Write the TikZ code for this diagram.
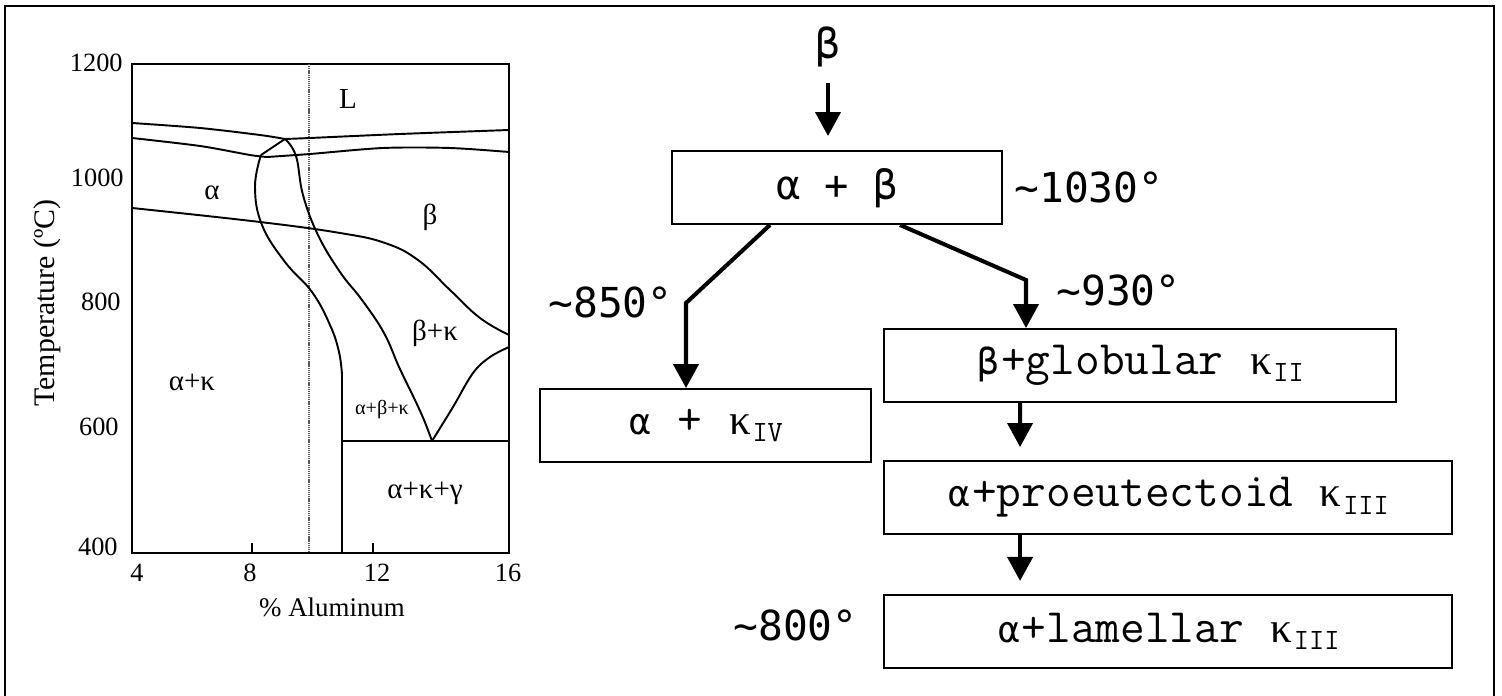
\documentclass[tikz,border=0pt]{standalone}
\usepackage{fontspec}
\setmainfont{Liberation Serif}
\newfontfamily\flowsans{DejaVu Sans Mono}
\newcommand\galpha{\makebox[0.525em]{\flowsans\fontsize{20.5}{24}\selectfont α}}
\newcommand\gbeta{\makebox[0.525em]{\flowsans\fontsize{20.5}{24}\selectfont β}}
\newcommand\kapsub[1]{\makebox[0.525em]{\rmfamily\fontsize{24.5}{28}\selectfont κ}\raisebox{-0.35ex}{\fontsize{16.8}{20}\selectfont #1}}
\usetikzlibrary{arrows.meta,positioning}

\begin{document}
\begin{tikzpicture}[x=0.02cm, y=-0.02cm,
    block/.style={rectangle, draw, line width=1.1pt, minimum height=1.46cm, inner sep=0pt, font=\ttfamily\fontsize{27.3}{31}\selectfont},
    arrow/.style={-{Triangle[length=0.48cm, width=0.5cm]}, line width=2.3pt},
    phase/.style={line width=1.1pt},
    tick/.style={font=\fontsize{15}{17}\selectfont, inner sep=0pt},
    region/.style={font=\fontsize{16.5}{19}\selectfont, inner sep=0pt},
    temp/.style={font=\flowsans\fontsize{23.5}{27}\selectfont, inner sep=0pt}
]
\useasboundingbox (0,0) rectangle (1502,696);
\draw[line width=1.1pt] (5,696) -- (5,6) -- (1494,6) -- (1494,696);

% Cu-Al phase diagram
\draw[phase] (132,64) rectangle (509,553);
\draw[line width=0.9pt, gray!70!black, dash pattern=on 0.7pt off 0.5pt] (309,64) -- (309,553);
\draw[phase] (252,553) -- (252,543);
\draw[phase] (373,553) -- (373,543);

\draw[phase] plot[smooth, tension=0.5] coordinates {(132,123) (200,128) (260,135) (285,139)}
    -- plot[smooth, tension=0.5] coordinates {(285,139) (310,138) (400,134) (509,130)};
\draw[phase] plot[smooth, tension=0.5] coordinates {(132,138) (200,146) (250,155) (267,157)}
    -- plot[smooth, tension=0.5] coordinates {(267,157) (310,154) (383,148) (450,148) (509,152)};
\draw[phase] (285,139) -- (261,155)
    plot[smooth, tension=0.7] coordinates {(261,155) (255,187) (262,225) (285,262) (312,292) (330,325) (339,352) (342,375)}
    -- (342,553);
\draw[phase] plot[smooth, tension=0.7] coordinates {(285,139) (296,156) (303,195) (318,235) (340,272) (362,300) (384,333) (399,367) (414,398) (424,420) (432,441)};
\draw[phase] plot[smooth, tension=0.7] coordinates {(132,208) (260,222) (340,233) (385,243) (418,260) (450,290) (480,318) (509,335)};
\draw[phase] plot[smooth, tension=0.6] coordinates {(432,441) (453,407) (473,373) (490,357) (509,347)};
\draw[phase] (342,441) -- (509,441);

\node[tick, anchor=east] (t1200) at (123,63) {1200};
\node[tick, anchor=east] (t1000) at (124,178) {1000};
\node[tick, anchor=east] (t800) at (121,302) {800};
\node[tick, anchor=east] (t600) at (119,427) {600};
\node[tick, anchor=east] (t400) at (118,547) {400};
\node[tick] (a4) at (137,573) {4};
\node[tick] (a8) at (250,573) {8};
\node[tick] (a12) at (377,573) {12};
\node[tick] (a16) at (508,573) {16};
\node[tick, font=\fontsize{15.3}{18}\selectfont] (xlab) at (332,607) {\% Aluminum};
\node[tick, rotate=90, font=\fontsize{17}{20}\selectfont] (ylab) at (47,303) {Temperature (ºC)};

\node[region] (rl) at (348,99) {L};
\node[region] (ralpha) at (212,193) {α};
\node[region] (rbeta) at (430,217) {β};
\node[region] (rbk) at (435,333) {β+κ};
\node[region] (rak) at (192,382) {α+κ};
\node[region, font=\fontsize{11.5}{14}\selectfont] (rabk) at (382,410) {α+β+κ};
\node[region] (rakg) at (425,493) {α+κ+γ};

% cooling paths
\node[temp] (beta) at (828,47) {β};
\node[block, font=\flowsans\fontsize{23}{27}\selectfont, minimum width=6.6cm] (ab) at (837,187.5) {α + β};
\node[block, minimum width=6.62cm] (kiv) at (705.5,425.5) {\galpha{} + \kapsub{IV}};
\node[block, minimum width=10.24cm] (glob) at (1140,365.5) {\gbeta+globular \kapsub{II}};
\node[block, minimum width=11.36cm] (proeu) at (1168,497.5) {\galpha+proeutectoid \kapsub{III}};
\node[block, minimum width=11.36cm, below=1.18cm of proeu] (lam) {\galpha+lamellar \kapsub{III}};

\node[temp, anchor=west] (t1030) at (1014,187) {\textasciitilde1030°};
\node[temp, anchor=east] (t850) at (673,302) {\textasciitilde850°};
\node[temp, anchor=west] (t930) at (1056,290) {\textasciitilde930°};
\node[temp, anchor=east] (t800) at (858,625) {\textasciitilde800°};

\coordinate (lbend) at (686,303);
\coordinate (rbend) at (1026,280);

\draw[arrow, shorten <=0.3cm, shorten >=0.28cm] (beta.south) -- (beta.south |- ab.north);
\draw[arrow] ([xshift=-1.34cm]ab.south) -- (lbend) -- (lbend |- kiv.north);
\draw[arrow] ([xshift=1.26cm]ab.south) -- (rbend) -- (rbend |- glob.north);
\draw[arrow, shorten >=0.26cm] ([xshift=2.74cm]glob.south west) -- ([xshift=2.74cm]proeu.north west);
\draw[arrow, shorten >=0.26cm] ([xshift=2.74cm]proeu.south west) -- ([xshift=2.74cm]lam.north west);

\end{tikzpicture}
\end{document}
